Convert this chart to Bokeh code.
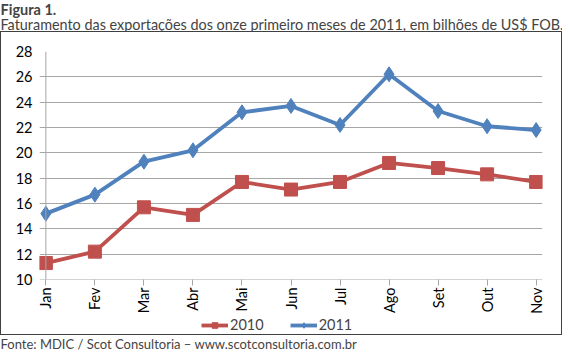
from bokeh.plotting import figure
from bokeh.models import Label, Legend, LegendItem, FixedTicker, Span
from bokeh.layouts import column
from bokeh.embed import file_html
from bokeh.resources import INLINE
import math

months = ["Jan", "Fev", "Mar", "Abr", "Mai", "Jun", "Jul", "Ago", "Set", "Out", "Nov"]
v2010 = [11.3, 12.2, 15.7, 15.1, 17.7, 17.1, 17.7, 19.2, 18.8, 18.3, 17.7]
v2011 = [15.2, 16.7, 19.3, 20.2, 23.2, 23.7, 22.2, 26.2, 23.3, 22.1, 21.8]
y_ticks = [10, 12, 14, 16, 18, 20, 22, 24, 26, 28]
series_names = ["2010", "2011"]
title_text = "Figura 1."
subtitle_text = "Faturamento das exportações dos onze primeiro meses de 2011, em bilhões de US$ FOB."
source_text = "Fonte: MDIC / Scot Consultoria – www.scotconsultoria.com.br"

RED = "#C0504D"
BLUE = "#4F81BD"
GRID = "#A6A6A6"
FONT = "Lato"
W = 562


def text_fig(h, w=W):
    f = figure(width=w, height=h, output_backend="svg", toolbar_location=None,
               x_range=(0, 1), y_range=(0, 1), x_axis_location=None, y_axis_location=None,
               min_border=0)
    f.grid.grid_line_color = None
    f.outline_line_color = None
    f.background_fill_color = "white"
    f.border_fill_color = "white"
    return f


top = text_fig(31)
top.add_layout(Label(x=0, y=31, x_units="screen", y_units="screen", text=title_text,
                     text_font=FONT, text_font_size="14.5px", text_font_style="bold",
                     text_baseline="top"))
top.add_layout(Label(x=0, y=16, x_units="screen", y_units="screen", text=subtitle_text,
                     text_font=FONT, text_font_size="14.4px", text_baseline="top"))

xs = list(range(len(months)))

p = figure(width=W - 2, height=284, output_backend="svg", toolbar_location=None,
           x_range=(-0.13, 10.13), y_range=(10, 28),
           min_border_left=38, min_border_right=19, min_border_top=19, min_border_bottom=32)
p.outline_line_color = None
p.background_fill_color = "white"
p.border_fill_color = "white"

p.xgrid.grid_line_color = None
p.ygrid.grid_line_color = GRID
p.ygrid.grid_line_width = 1

p.yaxis.ticker = FixedTicker(ticks=y_ticks)
p.yaxis.axis_line_color = None
p.yaxis.major_tick_line_color = None
p.yaxis.minor_tick_line_color = None
p.yaxis.major_label_standoff = 1
p.yaxis.major_label_text_font = FONT
p.yaxis.major_label_text_font_size = "14.5px"
p.yaxis.major_label_text_color = "#000000"

p.xaxis.ticker = FixedTicker(ticks=xs)
p.xaxis.major_label_overrides = {i: m for i, m in enumerate(months)}
p.xaxis.axis_line_color = None
p.xaxis.major_tick_line_color = GRID
p.xaxis.major_tick_out = 6
p.xaxis.major_tick_in = 0
p.xaxis.minor_tick_line_color = None
p.xaxis.major_label_orientation = math.pi / 2
p.xaxis.major_label_standoff = 2
p.xaxis.major_label_text_font = FONT
p.xaxis.major_label_text_font_size = "14.5px"
p.xaxis.major_label_text_color = "#000000"

p.add_layout(Span(location=0, dimension="height", line_color=GRID, line_width=1))
p.add_layout(Span(location=10, dimension="width", line_color=GRID, line_width=1))

p.line(xs, v2010, line_color=RED, line_width=3.8)
p.scatter(xs, v2010, marker="square", size=13, fill_color=RED, line_color=RED)
p.line(xs, v2011, line_color=BLUE, line_width=3.8)
p.scatter(xs, v2011, marker="diamond", size=15, fill_color=BLUE, line_color=BLUE)

# legend strip (same glyph styles as the chart series; dummy renderers off-range)
lg = text_fig(18, W - 2)
gl10 = lg.line([-5, -4], [-5, -4], line_color=RED, line_width=3.8)
gm10 = lg.scatter([-5], [-5], marker="square", size=13, fill_color=RED, line_color=RED)
gl11 = lg.line([-5, -4], [-5, -4], line_color=BLUE, line_width=3.8)
gm11 = lg.scatter([-5], [-5], marker="diamond", size=13, fill_color=BLUE, line_color=BLUE)
legend = Legend(items=[LegendItem(label=series_names[0], renderers=[gl10, gm10]),
                       LegendItem(label=series_names[1], renderers=[gl11, gm11])],
                orientation="horizontal", location=(162, 1),
                label_text_font=FONT, label_text_font_size="14.5px",
                glyph_width=27, glyph_height=14, label_standoff=2, spacing=26,
                padding=0, margin=0, border_line_color=None, background_fill_alpha=0)
lg.add_layout(legend, "center")

box = column(p, lg, spacing=0,
             styles={"border": "1px solid #404040"})

bottom = text_fig(17)
bottom.add_layout(Label(x=0, y=17, x_units="screen", y_units="screen", text=source_text,
                        text_font=FONT, text_font_size="13px", text_baseline="top"))

layout = column(top, box, bottom, spacing=0)
open("out.html", "w").write(file_html(layout, INLINE))
